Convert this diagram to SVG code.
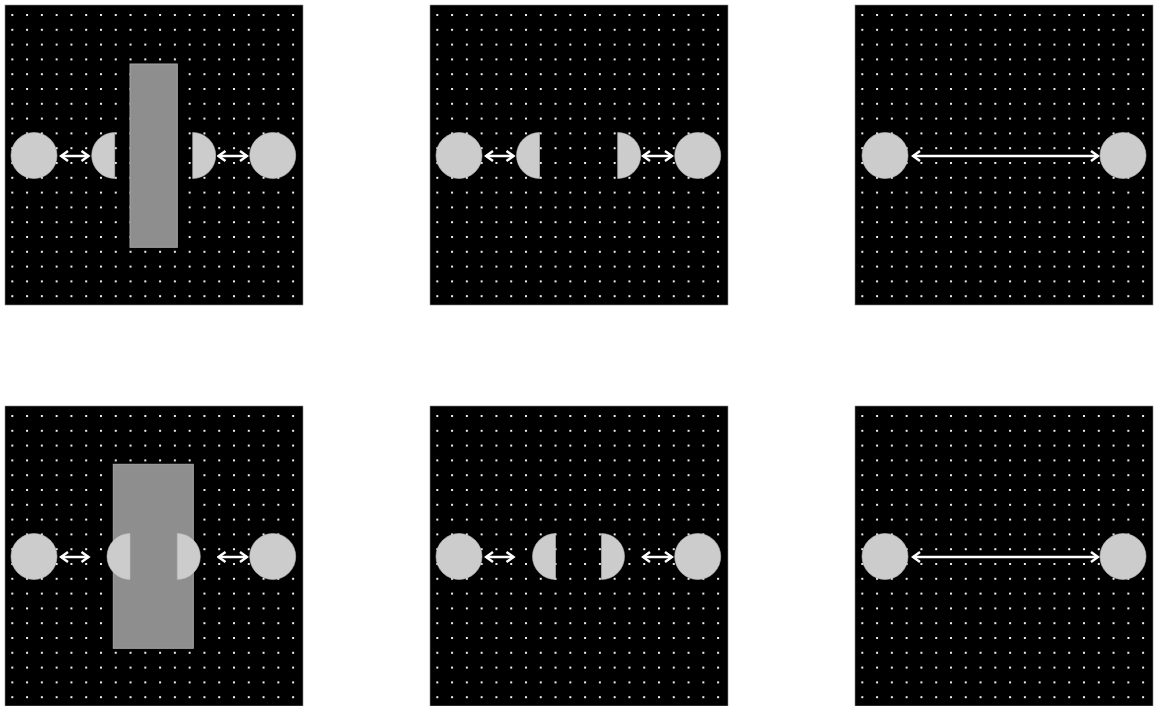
<svg xmlns="http://www.w3.org/2000/svg" width="1154" height="706" viewBox="0 0 1154 706">
<style>
.panel{fill:#000;stroke:#8a8a8a;stroke-width:0.6}
.dots{fill:url(#dotgrid)}
.disc{fill:#cccccc;stroke:#bdbdbd;stroke-width:0.6}
.bar{fill:#8e8e8e;stroke:#a6a6a6;stroke-width:1}
.arrow{stroke:#fff;stroke-width:2.5;fill:none;marker-start:url(#head);marker-end:url(#head)}
</style>
<defs>
<pattern id="dotgrid" patternUnits="userSpaceOnUse" x="11.3" y="14" width="14.78" height="14.8">
<rect x="0" y="0" width="2" height="2" fill="#eeeeee"/>
</pattern>
<marker id="head" markerUnits="userSpaceOnUse" viewBox="-9 -7 11 14" refX="0" refY="0" markerWidth="11" markerHeight="14" orient="auto-start-reverse">
<path d="M-7,-5 L0,0 L-7,5" fill="none" stroke="#fff" stroke-width="2.5" stroke-linejoin="miter"/>
</marker>
</defs>

<!-- Panel backgrounds -->
<g id="panel-1" transform="translate(0,0)"><rect class="panel" x="5" y="5" width="298" height="300"/><rect class="dots" x="5" y="5" width="298" height="300"/></g>
<g id="panel-2" transform="translate(425,0)"><rect class="panel" x="5" y="5" width="298" height="300"/><rect class="dots" x="5" y="5" width="298" height="300"/></g>
<g id="panel-3" transform="translate(850,0)"><rect class="panel" x="5" y="5" width="298" height="300"/><rect class="dots" x="5" y="5" width="298" height="300"/></g>
<g id="panel-4" transform="translate(0,401)"><rect class="panel" x="5" y="5" width="298" height="300"/><rect class="dots" x="5" y="5" width="298" height="300"/></g>
<g id="panel-5" transform="translate(425,401)"><rect class="panel" x="5" y="5" width="298" height="300"/><rect class="dots" x="5" y="5" width="298" height="300"/></g>
<g id="panel-6" transform="translate(850,401)"><rect class="panel" x="5" y="5" width="298" height="300"/><rect class="dots" x="5" y="5" width="298" height="300"/></g>

<!-- Panel 1 -->
<g id="p1-bar"><rect class="bar" x="130" y="64" width="47.3" height="183.3"/></g>
<g id="p1-circle-left"><circle class="disc" cx="34" cy="155.5" r="23"/></g>
<g id="p1-half-left"><path class="disc" d="M114.7,132.5 A23,23 0 0 0 114.7,178.5 Z"/></g>
<g id="p1-half-right"><path class="disc" d="M192.7,132.5 A23,23 0 0 1 192.7,178.5 Z"/></g>
<g id="p1-circle-right"><circle class="disc" cx="272.7" cy="155.5" r="23"/></g>

<!-- Panel 2 -->
<g id="p2-circle-left"><circle class="disc" cx="459" cy="155.5" r="23"/></g>
<g id="p2-half-left"><path class="disc" d="M539.5,132.5 A23,23 0 0 0 539.5,178.5 Z"/></g>
<g id="p2-half-right"><path class="disc" d="M617.7,132.5 A23,23 0 0 1 617.7,178.5 Z"/></g>
<g id="p2-circle-right"><circle class="disc" cx="697.7" cy="155.5" r="23"/></g>

<!-- Panel 3 -->
<g id="p3-circle-left"><circle class="disc" cx="885" cy="155.5" r="23"/></g>
<g id="p3-circle-right"><circle class="disc" cx="1123" cy="155.5" r="23"/></g>

<!-- Panel 4 -->
<g id="p4-bar"><rect class="bar" x="113.3" y="464.3" width="80" height="184"/></g>
<g id="p4-circle-left"><circle class="disc" cx="34" cy="556.5" r="23"/></g>
<g id="p4-half-left"><path class="disc" d="M130,533.5 A23,23 0 0 0 130,579.5 Z"/></g>
<g id="p4-half-right"><path class="disc" d="M177.3,533.5 A23,23 0 0 1 177.3,579.5 Z"/></g>
<g id="p4-circle-right"><circle class="disc" cx="272.7" cy="556.5" r="23"/></g>

<!-- Panel 5 -->
<g id="p5-circle-left"><circle class="disc" cx="459" cy="556.5" r="23"/></g>
<g id="p5-half-left"><path class="disc" d="M555.5,533.5 A23,23 0 0 0 555.5,579.5 Z"/></g>
<g id="p5-half-right"><path class="disc" d="M601.5,533.5 A23,23 0 0 1 601.5,579.5 Z"/></g>
<g id="p5-circle-right"><circle class="disc" cx="697.7" cy="556.5" r="23"/></g>

<!-- Panel 6 -->
<g id="p6-circle-left"><circle class="disc" cx="885" cy="556.5" r="23"/></g>
<g id="p6-circle-right"><circle class="disc" cx="1123" cy="556.5" r="23"/></g>

<!-- Connectors -->
<g id="connectors">
<line class="arrow" x1="61" y1="156" x2="88.5" y2="156"/>
<line class="arrow" x1="218.5" y1="156" x2="247" y2="156"/>
<line class="arrow" x1="486" y1="156" x2="513.5" y2="156"/>
<line class="arrow" x1="643" y1="156" x2="672" y2="156"/>
<line class="arrow" x1="913" y1="156" x2="1098" y2="156"/>
<line class="arrow" x1="61" y1="557" x2="88.5" y2="557"/>
<line class="arrow" x1="218.5" y1="557" x2="247" y2="557"/>
<line class="arrow" x1="486" y1="557" x2="513.5" y2="557"/>
<line class="arrow" x1="643" y1="557" x2="672" y2="557"/>
<line class="arrow" x1="913" y1="557" x2="1098" y2="557"/>
</g>
</svg>
